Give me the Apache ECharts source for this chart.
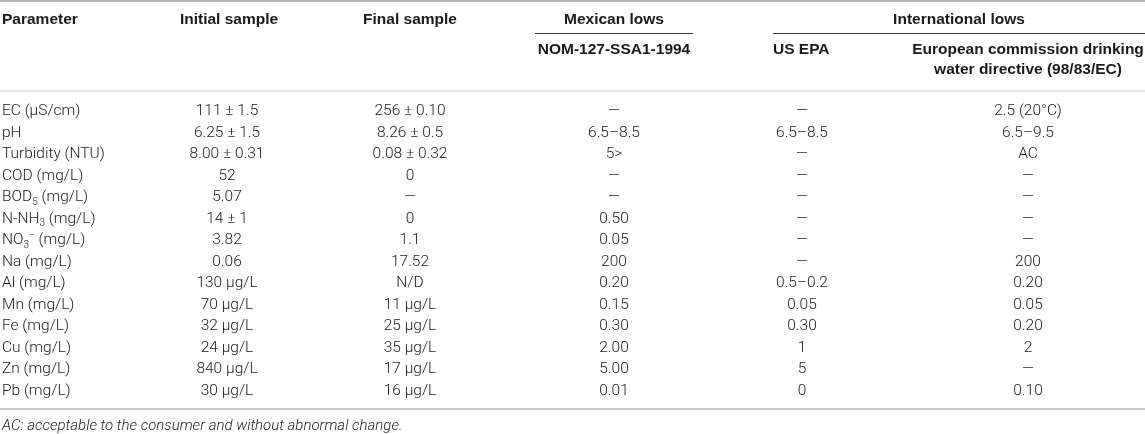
<!DOCTYPE html>
<html>
<head>
<meta charset="utf-8">
<title>Water quality parameters</title>
<script src="https://cdn.jsdelivr.net/npm/echarts@6/dist/echarts.min.js"></script>
<style>
    html, body { margin: 0; padding: 0; background: #fff; }
    #main { width: 1145px; height: 434px; }
</style>
</head>
<body>
<div id="main"></div>
<script>
// 表格数据（每列一个数组）
var parameters = ['EC (µS/cm)', 'pH', 'Turbidity (NTU)', 'COD (mg/L)', 'BOD{sub|5} (mg/L)',
    'N-NH{sub|3} (mg/L)', 'NO{sub|3}{sup|−} (mg/L)', 'Na (mg/L)', 'Al (mg/L)', 'Mn (mg/L)',
    'Fe (mg/L)', 'Cu (mg/L)', 'Zn (mg/L)', 'Pb (mg/L)'];
var initialSample = ['111 ± 1.5', '6.25 ± 1.5', '8.00 ± 0.31', '52', '5.07', '14 ± 1', '3.82',
    '0.06', '130 µg/L', '70 µg/L', '32 µg/L', '24 µg/L', '840 µg/L', '30 µg/L'];
var finalSample = ['256 ± 0.10', '8.26 ± 0.5', '0.08 ± 0.32', '0', '—', '0', '1.1',
    '17.52', 'N/D', '11 µg/L', '25 µg/L', '35 µg/L', '17 µg/L', '16 µg/L'];
var nomLimits = ['—', '6.5–8.5', '5>', '—', '—', '0.50', '0.05', '200', '0.20', '0.15',
    '0.30', '2.00', '5.00', '0.01'];
var epaLimits = ['—', '6.5–8.5', '—', '—', '—', '—', '—', '—', '0.5–0.2', '0.05',
    '0.30', '1', '5', '0'];
var euLimits = ['2.5 (20°C)', '6.5–9.5', 'AC', '—', '—', '—', '—', '200', '0.20', '0.05',
    '0.20', '2', '—', '0.10'];

var columns = [parameters, initialSample, finalSample, nomLimits, epaLimits, euLimits];
var footnote = 'AC: acceptable to the consumer and without abnormal change.';

// 版式：列中心位置（x轴取值）和对齐方式
var colX = [2, 227, 410, 614, 802, 1028];
var colAlign = ['left', 'center', 'center', 'center', 'center', 'center'];

var W = 1145;
var bodyFont = 'Roboto, "Liberation Sans", sans-serif';
var headFont = '"Liberation Sans", Arial, sans-serif';
var textColor = '#1a1a1a';

// 单元格数据：[列序号, 行序号]
var cells = [];
for (var r = 0; r < parameters.length; r++) {
    for (var c = 0; c < columns.length; c++) {
        cells.push([c, r]);
    }
}

function headText(text, x, y, align) {
    return {
        type: 'text', x: x, y: y, silent: true,
        style: {
            text: text, align: align || 'center', verticalAlign: 'middle',
            fontFamily: headFont, fontWeight: 'bold', fontSize: 15.5,
            lineHeight: 20, fill: textColor
        }
    };
}

function rule(x1, x2, y, color, width) {
    return {
        type: 'line', silent: true,
        shape: { x1: x1, y1: y, x2: x2, y2: y },
        style: { stroke: color, lineWidth: width }
    };
}

var subStyle = { fontFamily: bodyFont, fontWeight: 300, fontSize: 10, lineHeight: 8, fill: textColor };

var myChart = echarts.init(document.getElementById('main'));
myChart.setOption({
    animation: false,
    grid: { left: 0, right: 0, top: 100.5, height: 301 },
    xAxis: { type: 'value', min: 0, max: W, show: false },
    yAxis: { type: 'category', data: parameters, inverse: true, show: false },
    series: [{
        type: 'custom',
        coordinateSystem: 'cartesian2d',
        silent: true,
        data: cells,
        renderItem: function (params, api) {
            var c = api.value(0), r = api.value(1);
            var pt = api.coord([colX[c], r]);
            return {
                type: 'text', x: pt[0], y: pt[1],
                style: {
                    text: columns[c][r], align: colAlign[c], verticalAlign: 'middle',
                    fontFamily: bodyFont, fontWeight: 300, fontSize: 15.5, fill: textColor,
                    lineHeight: 20,
                    rich: {
                        sub: echarts.util.extend({ verticalAlign: 'bottom' }, subStyle),
                        sup: echarts.util.extend({ verticalAlign: 'top' }, subStyle)
                    }
                }
            };
        }
    }],
    graphic: [
        rule(0, W, 1, '#b5b5b5', 2),
        rule(535, 693, 33.5, '#333', 1),
        rule(773, W, 33.5, '#333', 1),
        rule(0, W, 91, '#c8c8c8', 1),
        rule(0, W, 409, '#c8c8c8', 2),
        headText('Parameter', 2, 20, 'left'),
        headText('Initial sample', 229, 20),
        headText('Final sample', 410, 20),
        headText('Mexican lows', 614, 20),
        headText('International lows', 959, 20),
        headText('NOM-127-SSA1-1994', 614, 50),
        headText('US EPA', 773, 50, 'left'),
        headText('European commission drinking\nwater directive (98/83/EC)', 1028, 60),
        {
            type: 'text', x: 2, y: 426, silent: true,
            style: {
                text: footnote, align: 'left', verticalAlign: 'middle',
                fontFamily: bodyFont, fontStyle: 'italic', fontWeight: 300, fontSize: 15,
                fill: textColor
            }
        }
    ]
});
</script>
</body>
</html>
